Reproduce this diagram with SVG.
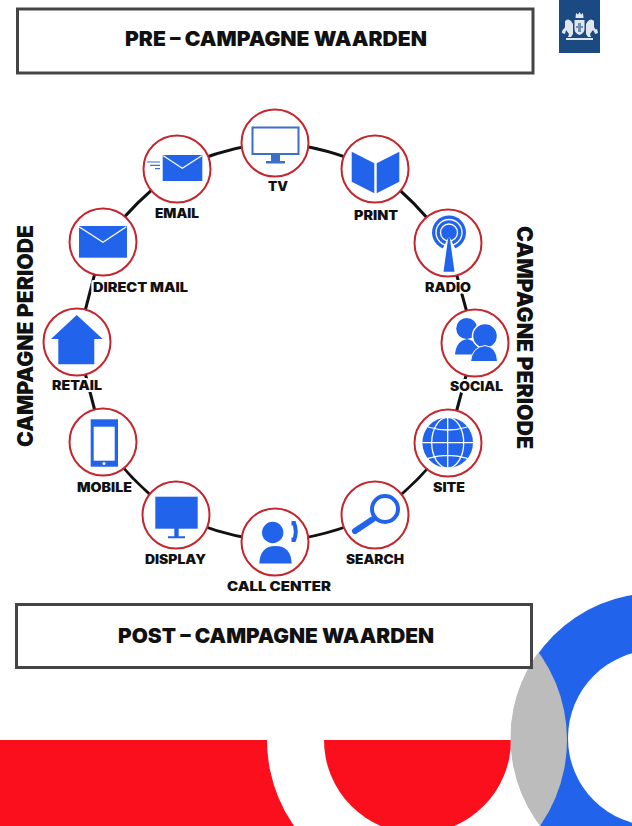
<svg xmlns="http://www.w3.org/2000/svg" width="632" height="826" viewBox="0 0 632 826">
<style>
.box{fill:#fff;stroke:#444;stroke-width:3}
.h{font-family:Inter,"Liberation Sans",sans-serif;font-weight:900;fill:#111}
.t1{font-size:20px}
.t2{font-size:21px}
.l{font-family:Inter,"Liberation Sans",sans-serif;font-weight:900;font-size:12.5px;fill:#111;stroke:#fff;stroke-width:4px;paint-order:stroke;stroke-linejoin:round}
.c{fill:#fff;stroke:#c5262e;stroke-width:2}
.b{fill:#2163ea}
.w{fill:none;stroke:#fff;stroke-width:1.300}
.ln{fill:none;stroke:#2163ea}
.arc{fill:none;stroke:#111;stroke-width:3}
.cr{fill:#dfe6ee}
</style>
<defs>
<clipPath id="lens"><circle cx="417" cy="740" r="150"/></clipPath>
</defs>
<rect width="632" height="826" fill="#fff"/>

<g id="decoration">
<rect x="0" y="740" width="512" height="86" fill="#fb0f1c"/>
<circle cx="417" cy="740" r="150" fill="#fff"/>
<path d="M324 740H511A93.500 93.500 0 0 1 324 740Z" fill="#fb0f1c"/>
<circle cx="656" cy="738" r="145" fill="#2163ea"/>
<circle cx="656" cy="738" r="88" fill="#fff"/>
<circle cx="656" cy="738" r="145.500" fill="#bcbcbc" clip-path="url(#lens)"/>
</g>

<g id="logo">
<rect x="559" y="0" width="41" height="53" fill="#1b4a82"/>
<path class="cr" d="M579.500 12l1.500 2.500 2-1.500 .5 5h-8l.5-5 2 1.500zM574.500 20h10v9q0 4-5 6q-5-2-5-6z"/>
<path d="M578 23h3v3h2v2h-2v4h-3v-4h-2v-2h2z" fill="#6f8fb4"/>
<path class="cr" d="M565 21q3-3 6 0l2 3v10l-2 3h-3l1-3-3-4-2 3-2-1 3-5zM594 21q-3-3-6 0l-2 3v10l2 3h3l-1-3 3-4 2 3 2-1-3-5z"/>
<path class="cr" d="M563 29l3 1-1 4-3-1zM597 29l-3 1 1 4 3-1z"/>
<rect class="cr" x="566" y="38" width="27" height="2"/>
</g>

<g id="pre-campagne">
<rect class="box" x="17.500" y="9" width="515.500" height="64"/>
<text class="h t1" x="125" y="46" textLength="302" lengthAdjust="spacingAndGlyphs">PRE – CAMPAGNE WAARDEN</text>
</g>
<g id="post-campagne">
<rect class="box" x="16.500" y="604.500" width="515" height="63"/>
<text class="h t1" x="118" y="643" textLength="316" lengthAdjust="spacingAndGlyphs">POST – CAMPAGNE WAARDEN</text>
</g>
<g id="periode-left">
<text class="h t2" transform="translate(33 447) rotate(-90)" textLength="222" lengthAdjust="spacingAndGlyphs">CAMPAGNE PERIODE</text>
</g>
<g id="periode-right">
<text class="h t2" transform="translate(517 226) rotate(90)" textLength="223" lengthAdjust="spacingAndGlyphs">CAMPAGNE PERIODE</text>
</g>

<g id="connectors">
<path class="arc" d="M275 142A300 300 0 0 1 375 169"/>
<path class="arc" d="M375 169A400 400 0 0 1 448 243"/>
<path class="arc" d="M448 243L475 342"/>
<path class="arc" d="M475 342L448 443"/>
<path class="arc" d="M448 443A300 300 0 0 1 375 515"/>
<path class="arc" d="M375 515A300 300 0 0 1 275 542"/>
<path class="arc" d="M275 542A300 300 0 0 1 176 515"/>
<path class="arc" d="M176 515A300 300 0 0 1 103 442"/>
<path class="arc" d="M103 442L77 342"/>
<path class="arc" d="M77 342L103 242"/>
<path class="arc" d="M103 242A400 400 0 0 1 177 169"/>
<path class="arc" d="M177 169A300 300 0 0 1 275 142"/>
</g>

<g id="tv">
<circle class="c" cx="275" cy="143" r="33.500"/>
<rect x="252.500" y="127.500" width="46" height="26.500" fill="#fff" stroke="#3b6fc9" stroke-width="2"/>
<path d="M271 154h9v7h5v2.500h-19v-2.500h5z" fill="#3b6fc9"/>
<text class="l" x="268" y="191" textLength="20" lengthAdjust="spacingAndGlyphs">TV</text>
</g>
<g id="print">
<circle class="c" cx="375" cy="169" r="33.500"/>
<path class="b" d="M351.700 151.700L374.300 163.300V193.300L351.700 181.700ZM376.700 163.300L399.300 151.700V181.700L376.700 193.300Z"/>
<text class="l" x="354" y="220" textLength="44" lengthAdjust="spacingAndGlyphs">PRINT</text>
</g>
<g id="radio">
<circle class="c" cx="448" cy="243" r="33.500"/>
<circle class="b" cx="449" cy="232.500" r="17"/>
<circle class="w" cx="449" cy="232.500" r="13"/>
<circle class="w" cx="449" cy="232.500" r="8.500"/>
<path d="M449 236L441 252H457Z" fill="#fff"/>
<path class="b" d="M449 232L454.500 271.700H443.500Z"/>
<circle class="b" cx="449" cy="232.500" r="4.500"/>
<text class="l" x="425" y="292" textLength="46" lengthAdjust="spacingAndGlyphs">RADIO</text>
</g>
<g id="social">
<circle class="c" cx="475" cy="343" r="33.500"/>
<circle class="b" cx="466.700" cy="328.500" r="10.500"/>
<path class="b" d="M455 354.500Q456 341 467 339Q478 341 480 354.500Z"/>
<circle class="b" cx="485" cy="336" r="12.500" stroke="#fff" stroke-width="1.500"/>
<path class="b" d="M470.500 361.500Q472 347 485 345.500Q497 347 497.500 361.500Z" stroke="#fff" stroke-width="1"/>
<text class="l" x="450" y="391" textLength="53" lengthAdjust="spacingAndGlyphs">SOCIAL</text>
</g>
<g id="site">
<circle class="c" cx="448" cy="443" r="33.500"/>
<circle class="b" cx="447.700" cy="442.700" r="25.300"/>
<path class="w" d="M447.700 417.400V468M422.400 442.700H473M428 427Q447.700 433 467.400 427M428 458.400Q447.700 452.400 467.400 458.400"/>
<ellipse class="w" cx="447.700" cy="442.700" rx="16" ry="25.300"/>
<text class="l" x="433" y="492" textLength="32" lengthAdjust="spacingAndGlyphs">SITE</text>
</g>
<g id="search">
<circle class="c" cx="375" cy="515" r="33.500"/>
<circle class="ln" cx="385" cy="509" r="13" stroke-width="4"/>
<path class="ln" d="M355 531L372.700 519.300" stroke-width="6" stroke-linecap="round"/>
<text class="l" x="346" y="564" textLength="58" lengthAdjust="spacingAndGlyphs">SEARCH</text>
</g>
<g id="call-center">
<circle class="c" cx="275" cy="542" r="33.500"/>
<circle class="b" cx="272.700" cy="532.500" r="10.700"/>
<path class="b" d="M259.300 563.500Q260 546 275.500 546Q291 546 291.700 563.500Z"/>
<path class="b" d="M291.500 521H295.500Q300 531.500 295.500 542H291.500V537.500H293Q294.500 531.500 293 525.500H291.500Z"/>
<text class="l" x="227" y="591" textLength="104" lengthAdjust="spacingAndGlyphs">CALL CENTER</text>
</g>
<g id="display">
<circle class="c" cx="176" cy="515" r="33.500"/>
<rect class="b" x="155.300" y="496.700" width="42.400" height="32"/>
<path class="b" d="M174.300 528h4.400v8.300h6.300v2h-17v-2h6.300z"/>
<text class="l" x="145" y="564" textLength="61" lengthAdjust="spacingAndGlyphs">DISPLAY</text>
</g>
<g id="mobile">
<circle class="c" cx="103" cy="442" r="33.500"/>
<rect class="b" x="90.700" y="419.300" width="27.300" height="47.400"/>
<rect x="93.700" y="426.700" width="21" height="34" fill="#fff"/>
<circle cx="104" cy="463.500" r="1.500" fill="#fff"/>
<text class="l" x="77" y="492" textLength="55" lengthAdjust="spacingAndGlyphs">MOBILE</text>
</g>
<g id="retail">
<circle class="c" cx="77" cy="342" r="33.500"/>
<path class="b" d="M76.700 315L102.700 339H94.300V364.300H58.300V339H51Z"/>
<text class="l" x="52" y="390" textLength="50" lengthAdjust="spacingAndGlyphs">RETAIL</text>
</g>
<g id="direct-mail">
<circle class="c" cx="103" cy="242" r="33.500"/>
<rect class="b" x="79" y="226" width="48" height="31.700"/>
<path class="w" d="M79 226.700L103 242.300L126.300 226.700"/>
<text class="l" x="93" y="292" textLength="95" lengthAdjust="spacingAndGlyphs">DIRECT MAIL</text>
</g>
<g id="email">
<circle class="c" cx="177" cy="169" r="33.500"/>
<rect class="b" x="162.700" y="155" width="39.600" height="26"/>
<path class="w" d="M163.300 155.700L182.300 168.300L201.700 155.700"/>
<path d="M147 162H160M150 165.300H160M155 168.700H160" stroke="#3b6fc9" stroke-width="1.200" fill="none"/>
<text class="l" x="155" y="218" textLength="44" lengthAdjust="spacingAndGlyphs">EMAIL</text>
</g>
</svg>
